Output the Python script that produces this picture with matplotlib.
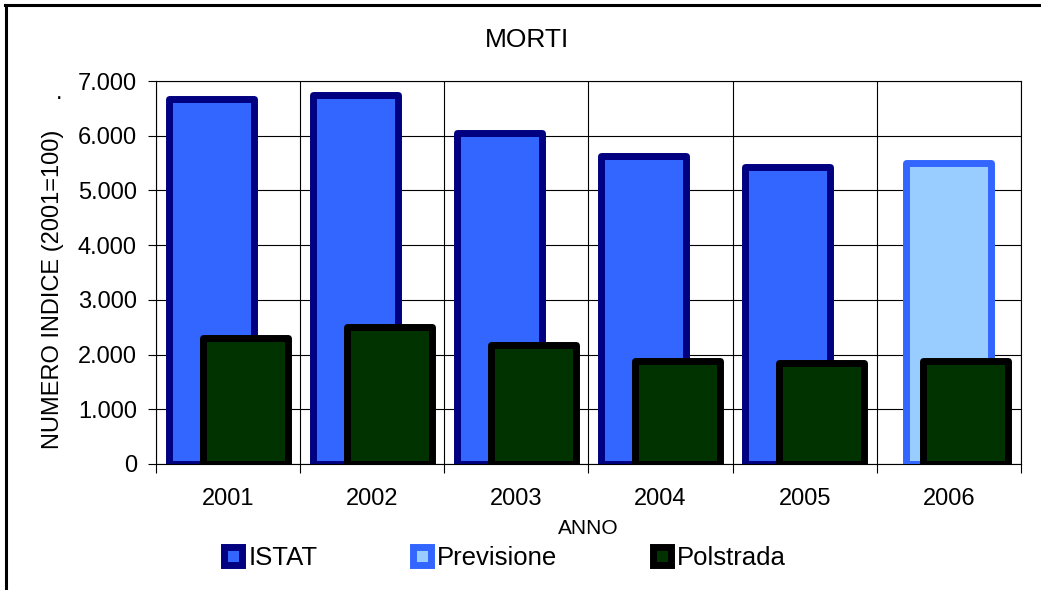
import numpy as np
import matplotlib
matplotlib.use('Agg')
import matplotlib.pyplot as plt
from matplotlib.patches import Patch
from matplotlib.lines import Line2D
from matplotlib.ticker import FuncFormatter

plt.rcParams['font.family'] = ['Liberation Sans', 'DejaVu Sans']

# data
anni = ['2001', '2002', '2003', '2004', '2005', '2006']
istat = [6670, 6740, 6050, 5625, 5425, np.nan]
previsione = [np.nan, np.nan, np.nan, np.nan, np.nan, 5500]
polstrada = [2295, 2510, 2175, 1885, 1855, 1885]
yticks = [0, 1000, 2000, 3000, 4000, 5000, 6000, 7000]

W, H = 1041, 590
fig = plt.figure(figsize=(W / 100, H / 100), dpi=100)
ax = fig.add_axes([156 / W, 1 - 464 / H, 865 / W, 383 / H])

x = np.arange(len(anni))
width = 0.59
off = 0.118

ax.bar(x - off, istat, width, color='#3366FF', edgecolor='#000080',
       linewidth=5, joinstyle='round', zorder=2)
ax.bar(x, previsione, width, color='#99CCFF', edgecolor='#3366FF',
       linewidth=5, joinstyle='round', zorder=3)
ax.bar(x + off, polstrada, width, color='#003300', edgecolor='#000000',
       linewidth=5, joinstyle='round', zorder=4)

ax.set_xlim(-0.5, len(anni) - 0.5)
ax.set_ylim(0, 7000)
ax.set_yticks(yticks)
ax.yaxis.set_major_formatter(FuncFormatter(lambda v, p: '{:,.0f}'.format(v).replace(',', '.')))

# category boundaries carry ticks and grid, labels sit in the middle
ax.set_xticks(np.arange(len(anni) + 1) - 0.5)
ax.set_xticklabels([])
ax.set_xticks(x, minor=True)
ax.set_xticklabels(anni, minor=True)
ax.tick_params(axis='x', which='major', length=6.5, width=0.8, direction='out')
ax.tick_params(axis='x', which='minor', length=0, pad=17, labelsize=17)
ax.tick_params(axis='y', length=5.8, width=0.8, pad=8, labelsize=17)

ax.grid(True, which='major', color='#000000', linewidth=0.8, zorder=0)
ax.set_axisbelow(True)
for s in ax.spines.values():
    s.set_linewidth(0.8)
    s.set_color('#000000')

fig.text(527 / W, 1 - 40 / H, 'MORTI', ha='center', va='center', fontsize=19)
fig.text(53 / W, 1 - 289 / H, 'NUMERO INDICE (2001=100)', rotation=90,
         ha='center', va='center', fontsize=17)
fig.text(588 / W, 1 - 529 / H, 'ANNO', ha='center', va='center', fontsize=15)
fig.text(59 / W, 1 - 99 / H, '.', ha='center', va='baseline', fontsize=17)

handles = [
    Patch(facecolor='#3366FF', edgecolor='#000080', linewidth=5, joinstyle='round'),
    Patch(facecolor='#99CCFF', edgecolor='#3366FF', linewidth=5, joinstyle='round'),
    Patch(facecolor='#003300', edgecolor='#000000', linewidth=5, joinstyle='round'),
]
fig.legend(handles, ['ISTAT', 'Previsione', 'Polstrada'], loc='center',
           bbox_to_anchor=(505 / W, 1 - 558 / H), ncol=3, frameon=False,
           fontsize=18.5, handlelength=0.7, handleheight=0.7,
           handletextpad=0.25, columnspacing=3.7, borderpad=0)

# page frame (left and top edges)
fig.add_artist(Line2D([6 / W, 6 / W], [0, 1 - 5 / H], color='black', linewidth=2.2,
                      transform=fig.transFigure))
fig.add_artist(Line2D([5 / W, 1], [1 - 5 / H, 1 - 5 / H], color='black', linewidth=2.2,
                      transform=fig.transFigure))

fig.savefig('out.png', dpi=100)
